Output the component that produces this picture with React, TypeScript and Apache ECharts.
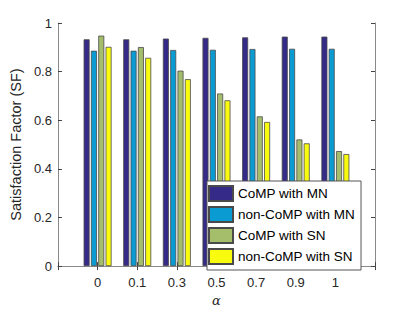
import React, { useEffect, useRef } from "react";
import * as echarts from "echarts";

const alphaLabels = ["0", "0.1", "0.3", "0.5", "0.7", "0.9", "1"];
const seriesNames = ["CoMP with MN", "non-CoMP with MN", "CoMP with SN", "non-CoMP with SN"];
const compMN = [0.933, 0.933, 0.936, 0.939, 0.941, 0.944, 0.944];
const noncompMN = [0.886, 0.886, 0.889, 0.89, 0.893, 0.894, 0.894];
const compSN = [0.948, 0.901, 0.804, 0.71, 0.616, 0.521, 0.473];
const noncompSN = [0.902, 0.857, 0.769, 0.682, 0.593, 0.505, 0.461];
const colors = ["#352A87", "#0A9BD2", "#A5BE6B", "#F9FB0E"];
const yTicks = [0, 0.2, 0.4, 0.6, 0.8, 1];

const FONT = "'Liberation Sans', Arial, Helvetica, sans-serif";

export default function App() {
  const ref = useRef<HTMLDivElement>(null);
  useEffect(() => {
    document.body.style.margin = "0";
    if (!ref.current) return;
    const chart = echarts.init(ref.current, null, { renderer: "svg" });
    const cats = ["", ...alphaLabels, ""];
    const pad = (a: number[]) => ["-", ...a, "-"];
    const allData = [compMN, noncompMN, compSN, noncompSN];
    const axisLineStyle = { color: "#8a8a8a", width: 1 };
    chart.setOption({
      animation: false,
      textStyle: { fontFamily: FONT },
      grid: { left: 54, right: 40, top: 23, bottom: 44, containLabel: false },
      legend: {
        orient: "vertical",
        left: 207,
        top: 181,
        padding: [4, 6, 5, 1],
        itemWidth: 24,
        itemHeight: 15,
        itemGap: 4,
        icon: "rect",
        backgroundColor: "#ffffff",
        borderColor: "#555555",
        borderWidth: 1,
        textStyle: { fontSize: 13.5, color: "#000", fontFamily: FONT },
        data: seriesNames,
      },
      xAxis: [
        {
          type: "category",
          data: cats,
          boundaryGap: false,
          position: "bottom",
          name: "α",
          nameLocation: "middle",
          nameGap: 24,
          nameTextStyle: { fontFamily: "'DejaVu Serif', 'Liberation Serif', serif", fontStyle: "italic", fontSize: 13, color: "#262626" },
          axisLine: { show: true, lineStyle: axisLineStyle },
          axisTick: { show: true, inside: true, length: 4, interval: 0, lineStyle: { color: "#444" } },
          axisLabel: { interval: 0, fontSize: 13, color: "#262626", margin: 10, fontFamily: FONT },
          splitLine: { show: false },
        },
        {
          type: "category",
          data: cats,
          boundaryGap: false,
          position: "top",
          axisLine: { show: true, lineStyle: axisLineStyle },
          axisTick: { show: true, inside: true, length: 4, interval: 0, lineStyle: { color: "#444" } },
          axisLabel: { show: false },
          splitLine: { show: false },
        },
      ],
      yAxis: [
        {
          type: "value",
          min: 0,
          max: 1,
          interval: 0.2,
          position: "left",
          name: "Satisfaction Factor (SF)",
          nameLocation: "middle",
          nameGap: 30,
          nameTextStyle: { fontSize: 14.5, color: "#262626", fontFamily: FONT },
          axisLine: { show: true, lineStyle: axisLineStyle },
          axisTick: { show: true, inside: true, length: 4, lineStyle: { color: "#444" } },
          axisLabel: {
            fontSize: 13,
            color: "#262626",
            margin: 6,
            fontFamily: FONT,
            formatter: (v: number) => {
              const t = yTicks.find((x) => Math.abs(x - v) < 1e-9);
              return t === undefined ? "" : String(t);
            },
          },
          splitLine: { show: false },
        },
        {
          type: "value",
          min: 0,
          max: 1,
          interval: 0.2,
          position: "right",
          axisLine: { show: true, lineStyle: axisLineStyle },
          axisTick: { show: true, inside: true, length: 4, lineStyle: { color: "#444" } },
          axisLabel: { show: false },
          splitLine: { show: false },
        },
      ],
      series: seriesNames.map((name, i) => ({
        name,
        type: "bar",
        xAxisIndex: 0,
        yAxisIndex: 0,
        data: pad(allData[i]),
        barWidth: 6,
        barGap: "22%",
        itemStyle: { color: colors[i], borderColor: "#4a4a4a", borderWidth: 0.8 },
      })),
    });
    return () => chart.dispose();
  }, []);
  return <div ref={ref} style={{ width: 415, height: 312 }} />;
}
